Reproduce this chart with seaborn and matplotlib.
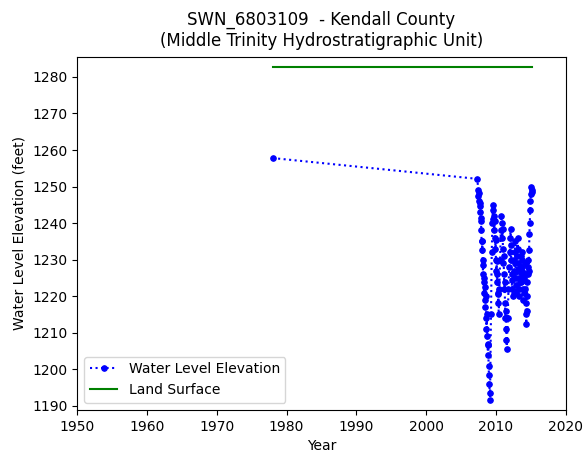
import numpy as np
import pandas as pd
import seaborn as sns
import matplotlib
matplotlib.use("Agg")
import matplotlib.pyplot as plt
from matplotlib.ticker import MultipleLocator

# Water level measurements (decimal year, elevation in feet)
years = [1978.0, 2007.35, 2007.45, 2007.5, 2007.55, 2007.6, 2007.65, 2007.7, 2007.75, 2007.8,
         2007.85, 2007.9, 2007.95, 2008.0, 2008.05, 2008.1, 2008.15, 2008.2, 2008.25, 2008.3,
         2008.35, 2008.4, 2008.45, 2008.5, 2008.55, 2008.6, 2008.65, 2008.7, 2008.75, 2008.8,
         2008.85, 2008.9, 2008.95, 2009.0, 2009.05, 2009.1, 2009.15,
         2009.3, 2009.4, 2009.5, 2009.55, 2009.6, 2009.65, 2009.7, 2009.75, 2009.8, 2009.85,
         2009.9, 2009.95, 2010.0, 2010.05, 2010.1, 2010.15, 2010.2, 2010.25, 2010.3, 2010.35,
         2010.4, 2010.5, 2010.6, 2010.7, 2010.8, 2010.85, 2010.9, 2010.95, 2011.0, 2011.05,
         2011.1, 2011.15, 2011.2, 2011.25, 2011.3, 2011.35, 2011.4, 2011.45, 2011.5, 2011.55,
         2011.7, 2011.8, 2011.9, 2012.0, 2012.05, 2012.1, 2012.15, 2012.2, 2012.25, 2012.3,
         2012.35, 2012.4, 2012.5, 2012.6, 2012.65, 2012.7, 2012.75, 2012.8, 2012.85, 2012.9,
         2012.95, 2013.0, 2013.05, 2013.1, 2013.15, 2013.2, 2013.25, 2013.3, 2013.35, 2013.4,
         2013.5, 2013.55, 2013.6, 2013.65, 2013.7, 2013.75, 2013.8, 2013.85, 2013.9, 2013.95,
         2014.0, 2014.05, 2014.1, 2014.15, 2014.2, 2014.25, 2014.3, 2014.35, 2014.4, 2014.45,
         2014.5, 2014.55, 2014.6, 2014.65, 2014.7, 2014.75, 2014.8, 2014.85, 2014.9, 2014.95,
         2015.0, 2015.05, 2015.1, 2015.15]
levels = [1257.8, 1252.1, 1249.0, 1247.5, 1248.2, 1246.0, 1244.8, 1245.5, 1243.0, 1240.5,
          1241.5, 1238.0, 1235.0, 1232.5, 1235.0, 1230.0, 1226.0, 1228.5, 1224.0, 1221.0,
          1225.0, 1219.0, 1222.5, 1217.0, 1220.0, 1214.0, 1211.0, 1215.0, 1209.0, 1206.5,
          1204.0, 1207.0, 1201.0, 1198.5, 1196.0, 1193.5, 1191.5,
          1215.0, 1232.0, 1240.0, 1243.5, 1241.0, 1245.0, 1242.0, 1238.0, 1240.5, 1236.0,
          1233.0, 1235.5, 1230.0, 1227.0, 1229.5, 1224.0, 1226.0, 1221.0, 1218.0, 1220.5,
          1215.0, 1222.0, 1230.0, 1238.0, 1242.0, 1240.0, 1236.0, 1238.5, 1233.0, 1229.0,
          1231.0, 1226.0, 1222.0, 1224.0, 1218.0, 1214.0, 1216.0, 1211.0, 1208.0, 1205.5,
          1214.0, 1222.0, 1228.0, 1232.0, 1236.0, 1238.5, 1234.0, 1230.0, 1226.0, 1222.0,
          1224.5, 1220.0, 1226.0, 1230.0, 1227.0, 1232.0, 1235.0, 1229.0, 1225.0, 1221.0,
          1223.0, 1227.0, 1231.0, 1236.0, 1233.0, 1229.0, 1225.0, 1222.0, 1220.0, 1224.0,
          1228.0, 1231.0, 1227.0, 1224.0, 1228.0, 1232.0, 1230.0, 1226.0, 1222.0, 1219.0,
          1221.0, 1225.0, 1229.0, 1226.0, 1222.0, 1218.0, 1215.0, 1212.5, 1216.0, 1220.0,
          1224.0, 1228.0, 1226.0, 1230.0, 1227.0, 1232.5, 1237.0, 1240.0, 1243.5, 1246.0,
          1248.0, 1250.0, 1249.0, 1248.5]

# Land surface elevation
land_years = [1978.0, 2015.15]
land_levels = [1282.7, 1282.7]

wl = pd.DataFrame({"Year": years, "Elevation": levels})
ls = pd.DataFrame({"Year": land_years, "Elevation": land_levels})

fig = plt.figure(figsize=(5.85, 4.62), dpi=100)
ax = fig.add_axes([0.132, 0.113, 0.835, 0.764])

sns.lineplot(data=wl, x="Year", y="Elevation", ax=ax, color="blue", linestyle=":",
             marker="o", markersize=4, markeredgecolor="blue", label="Water Level Elevation")
sns.lineplot(data=ls, x="Year", y="Elevation", ax=ax, color="green", linewidth=1.5,
             label="Land Surface")

ax.set_xlim(1950, 2020)
ax.set_ylim(1188.9, 1285.5)
ax.yaxis.set_major_locator(MultipleLocator(10))
ax.set_xlabel("Year")
ax.set_ylabel("Water Level Elevation (feet)")
ax.set_title("SWN_6803109  - Kendall County\n(Middle Trinity Hydrostratigraphic Unit)",
             fontsize=12, pad=8)
ax.legend(loc="lower left")

fig.savefig("out.png", dpi=100)
